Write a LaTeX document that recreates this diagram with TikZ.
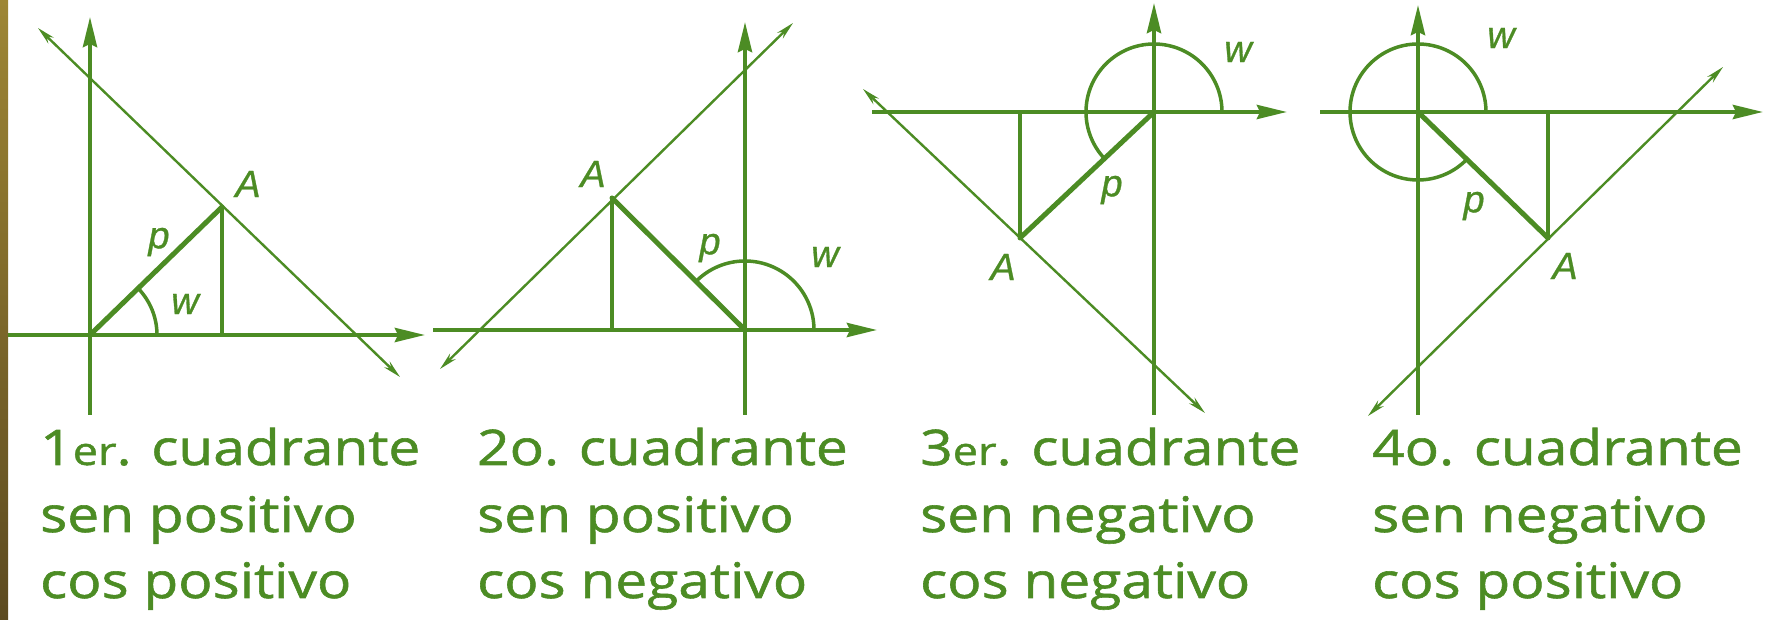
\documentclass[tikz,border=0pt]{standalone}
\usepackage{fontspec}
\setmainfont{Open Sans}[FakeStretch=1.16, FakeBold=1.2]
\newfontfamily\labfont{Liberation Sans}[FakeBold=0.8]
\usetikzlibrary{arrows.meta}
\definecolor{grn}{RGB}{76,140,36}
\definecolor{goldtop}{RGB}{158,134,52}
\definecolor{goldbot}{RGB}{92,74,32}
\newcommand{\smallpart}[1]{{\fontsize{39}{39}\selectfont #1}}
\begin{document}
\begin{tikzpicture}[x=1pt,y=1pt,
  axis/.style={draw=grn, line width=4pt, -{Stealth[length=30pt,width=14pt,inset=3pt,fill=grn]}},
  diag/.style={draw=grn, line width=2.4pt, {Stealth[length=18pt,width=8pt,fill=grn]}-{Stealth[length=18pt,width=8pt,fill=grn]}},
  vecline/.style={draw=grn, line width=5pt, line cap=round},
  proj/.style={draw=grn, line width=3.5pt},
  angarc/.style={draw=grn, line width=3.5pt},
  lbl/.style={text=grn, font=\labfont\itshape\fontsize{38}{38}\selectfont, inner sep=0pt},
  capt/.style={text=grn, font=\fontsize{49}{49}\selectfont, anchor=base west, inner sep=0pt}
]
\useasboundingbox (0,0) rectangle (1773,620);
\shade[top color=goldtop, bottom color=goldbot] (0,0) rectangle (8,620);

% ---------- Panel 1 ----------
\coordinate (O1) at (90,285);
\coordinate (A1) at (222,413);
\coordinate (F1) at (222,285);
\coordinate (Y1b) at (90,205);
\coordinate (Y1t) at (90,603);
\coordinate (X1l) at (8,285);
\coordinate (X1r) at (425,285);
\coordinate (D1a) at (38,592);
\coordinate (D1b) at (400,243);
\draw[axis] (Y1b) -- (Y1t);
\draw[axis] (X1l) -- (X1r);
\draw[diag] (D1a) -- (D1b);
\draw[proj] (A1) -- (F1);
\draw[vecline] (O1) -- (A1);
\draw[angarc] (O1) ++(67,0) arc[start angle=0,end angle=44,radius=67];
\node[lbl] (lA1) at (248,436) {A};
\node[lbl] (lp1) at (159,378) {p};
\node[lbl] (lw1) at (185,316) {w};

% ---------- Panel 2 ----------
\coordinate (O2) at (745,290);
\coordinate (A2) at (612,422);
\coordinate (F2) at (612,290);
\coordinate (Y2b) at (745,205);
\coordinate (Y2t) at (745,598);
\coordinate (X2l) at (433,290);
\coordinate (X2r) at (877,290);
\coordinate (D2a) at (440,251);
\coordinate (D2b) at (793,597);
\draw[axis] (Y2b) -- (Y2t);
\draw[axis] (X2l) -- (X2r);
\draw[diag] (D2a) -- (D2b);
\draw[proj] (A2) -- (F2);
\draw[vecline] (O2) -- (A2);
\draw[angarc] (O2) ++(69,0) arc[start angle=0,end angle=135,radius=69];
\node[lbl] (lA2) at (593,446) {A};
\node[lbl] (lp2) at (710,372) {p};
\node[lbl] (lw2) at (825,363) {w};

% ---------- Panel 3 ----------
\coordinate (O3) at (1154,508);
\coordinate (A3) at (1020,382);
\coordinate (F3) at (1020,508);
\coordinate (Y3b) at (1154,205);
\coordinate (Y3t) at (1154,617);
\coordinate (X3l) at (872,508);
\coordinate (X3r) at (1287,508);
\coordinate (D3a) at (863,531);
\coordinate (D3b) at (1205,207);
\draw[axis] (Y3b) -- (Y3t);
\draw[axis] (X3l) -- (X3r);
\draw[diag] (D3a) -- (D3b);
\draw[proj] (A3) -- (F3);
\draw[vecline] (O3) -- (A3);
\draw[angarc] (O3) ++(68,0) arc[start angle=0,end angle=223,radius=68];
\node[lbl] (lA3) at (1003,353) {A};
\node[lbl] (lp3) at (1112,430) {p};
\node[lbl] (lw3) at (1238,568) {w};

% ---------- Panel 4 ----------
\coordinate (O4) at (1418,508);
\coordinate (A4) at (1548,382);
\coordinate (F4) at (1548,508);
\coordinate (Y4b) at (1418,205);
\coordinate (Y4t) at (1418,615);
\coordinate (X4l) at (1320,508);
\coordinate (X4r) at (1763,508);
\coordinate (D4a) at (1368,204);
\coordinate (D4b) at (1723,553);
\draw[axis] (Y4b) -- (Y4t);
\draw[axis] (X4l) -- (X4r);
\draw[diag] (D4a) -- (D4b);
\draw[proj] (A4) -- (F4);
\draw[vecline] (O4) -- (A4);
\draw[angarc] (O4) ++(68,0) arc[start angle=0,end angle=316,radius=68];
\node[lbl] (lA4) at (1565,354) {A};
\node[lbl] (lp4) at (1474,414) {p};
\node[lbl] (lw4) at (1501,582) {w};

% ---------- Captions ----------
\node[capt] (c1a) at (40,155) {1\smallpart{er}. cuadrante};
\node[capt] (c1b) at (40,88) {sen positivo};
\node[capt] (c1c) at (40,22) {cos positivo};
\node[capt] (c2a) at (477,155) {2o. cuadrante};
\node[capt] (c2b) at (477,88) {sen positivo};
\node[capt] (c2c) at (477,22) {cos negativo};
\node[capt] (c3a) at (920,155) {3\smallpart{er}. cuadrante};
\node[capt] (c3b) at (920,88) {sen negativo};
\node[capt] (c3c) at (920,22) {cos negativo};
\node[capt] (c4a) at (1372,155) {4o. cuadrante};
\node[capt] (c4b) at (1372,88) {sen negativo};
\node[capt] (c4c) at (1372,22) {cos positivo};
\end{tikzpicture}
\end{document}
